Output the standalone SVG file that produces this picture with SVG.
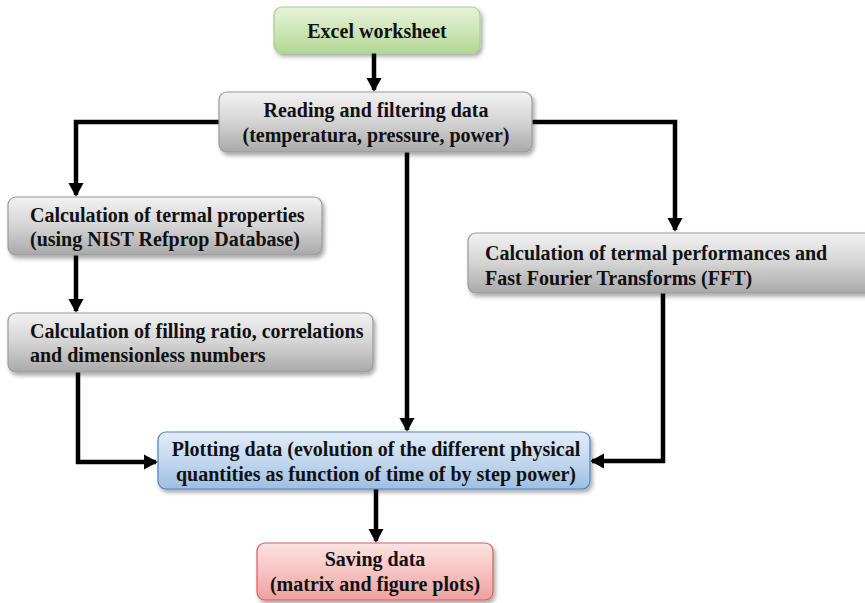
<svg xmlns="http://www.w3.org/2000/svg" width="865" height="603" viewBox="0 0 865 603">
<defs>
<linearGradient id="gGrey" x1="0" y1="0" x2="0" y2="1"><stop offset="0" stop-color="#f2f2f2"/><stop offset="0.5" stop-color="#d4d4d4"/><stop offset="1" stop-color="#a9a9a9"/></linearGradient>
<linearGradient id="gGreen" x1="0" y1="0" x2="0" y2="1"><stop offset="0" stop-color="#e6f2da"/><stop offset="0.5" stop-color="#cfe6b8"/><stop offset="1" stop-color="#b3d794"/></linearGradient>
<linearGradient id="gBlue" x1="0" y1="0" x2="0" y2="1"><stop offset="0" stop-color="#e2ecf7"/><stop offset="0.5" stop-color="#c3d8ee"/><stop offset="1" stop-color="#9ebfe2"/></linearGradient>
<linearGradient id="gRed" x1="0" y1="0" x2="0" y2="1"><stop offset="0" stop-color="#fde3e3"/><stop offset="0.5" stop-color="#f6c3c3"/><stop offset="1" stop-color="#eea0a0"/></linearGradient>
<filter id="sh" x="-5%" y="-10%" width="110%" height="130%"><feDropShadow dx="2" dy="3" stdDeviation="2" flood-color="#000" flood-opacity="0.35"/></filter>
<marker id="ah" markerWidth="4" markerHeight="4" refX="2.7" refY="2" orient="auto" markerUnits="strokeWidth"><path d="M0,0.3 L3.1,2 L0,3.7 z" fill="#000"/></marker>
<style>
.box{stroke-width:1.2;filter:url(#sh)}
.grey{fill:url(#gGrey);stroke:#9a9a9a}
.green{fill:url(#gGreen);stroke:#a9d08a}
.blue{fill:url(#gBlue);stroke:#4f81bd}
.red{fill:url(#gRed);stroke:#e05a5a}
text{font-family:"Liberation Serif","DejaVu Serif",serif;font-weight:bold;font-size:20px;fill:#111}
.c{text-anchor:middle}
.conn{fill:none;stroke:#000;stroke-width:4.5;marker-end:url(#ah)}
</style>
</defs>
<g id="connectors">
<path class="conn" d="M374,53 V90"/>
<path class="conn" d="M219,122 H76 V195"/>
<path class="conn" d="M532,122 H675 V230"/>
<path class="conn" d="M407,152 V430"/>
<path class="conn" d="M76,255 V311"/>
<path class="conn" d="M78,372 V462 H156"/>
<path class="conn" d="M663,293 V461 H592"/>
<path class="conn" d="M376,489 V541"/>
</g>
<g id="excel"><rect class="box green" x="274" y="7" width="206" height="46" rx="8"/><text class="c" x="377" y="38">Excel worksheet</text></g>
<g id="reading"><rect class="box grey" x="219" y="92" width="313" height="60" rx="8"/><text class="c" x="376" y="117">Reading and filtering data</text><text class="c" x="376" y="142">(temperatura, pressure, power)</text></g>
<g id="termal"><rect class="box grey" x="8" y="197" width="314" height="58" rx="8"/><text x="30" y="222">Calculation of termal properties</text><text x="30" y="246">(using NIST Refprop Database)</text></g>
<g id="filling"><rect class="box grey" x="8" y="313" width="365" height="59" rx="8"/><text x="30" y="338">Calculation of filling ratio, correlations</text><text x="30" y="362">and dimensionless numbers</text></g>
<g id="perf"><rect class="box grey" x="468" y="233" width="410" height="60" rx="8"/><text x="485" y="260">Calculation of termal performances and</text><text x="485" y="285">Fast Fourier Transforms (FFT)</text></g>
<g id="plotting"><rect class="box blue" x="158" y="432" width="432" height="57" rx="8"/><text class="c" x="376" y="456">Plotting data (evolution of the different physical</text><text class="c" x="376" y="481">quantities as function of time of by step power)</text></g>
<g id="saving"><rect class="box red" x="257" y="543" width="236" height="57" rx="8"/><text class="c" x="375" y="566">Saving data</text><text class="c" x="375" y="591">(matrix and figure plots)</text></g>
</svg>
